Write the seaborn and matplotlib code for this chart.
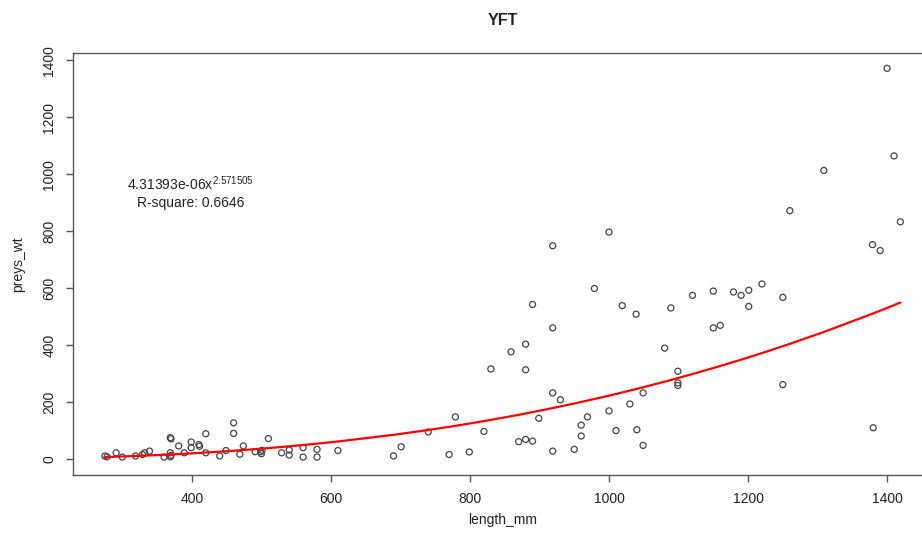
import numpy as np
import matplotlib
matplotlib.use("Agg")
import matplotlib.pyplot as plt
import pandas as pd
import seaborn as sns

# length (mm) and prey weight
length_mm = [275, 278, 291, 300, 319, 329, 332, 339, 360, 369, 370, 369, 369, 370,
             381, 389, 399, 399, 410, 411, 420, 420, 440, 449, 460, 460, 469, 474,
             491, 499, 500, 501, 510, 529, 540, 540, 560, 560, 580, 580, 610,
             690, 701, 740, 770, 779, 799, 820, 830, 859, 870, 880, 880, 880, 890,
             890, 899, 919, 919, 919, 919, 930, 950, 960, 960, 969, 979, 1000, 1000,
             1010, 1019, 1030, 1039, 1040, 1049, 1049, 1080, 1089, 1099, 1099, 1099,
             1120, 1150, 1150, 1160, 1179, 1190, 1201, 1201, 1220, 1250, 1250, 1260,
             1309, 1379, 1380, 1390, 1400, 1410, 1419]
preys_wt = [12, 9, 23, 8, 12, 17, 23, 29, 8, 76, 72, 23, 9, 14,
            47, 23, 61, 41, 52, 46, 90, 23, 12, 31, 128, 91, 18, 47,
            27, 27, 20, 32, 73, 23, 33, 15, 41, 8, 35, 8, 31,
            12, 44, 96, 17, 149, 26, 98, 317, 377, 62, 70, 404, 314, 64,
            543, 144, 29, 749, 461, 233, 209, 35, 82, 120, 149, 599, 797, 170,
            101, 539, 194, 509, 104, 233, 49, 390, 531, 309, 268, 259,
            575, 590, 461, 470, 587, 575, 593, 536, 615, 568, 262, 872,
            1013, 753, 111, 732, 1371, 1064, 833]

# power fit reported on the chart
fit_a = 4.31393e-06
fit_b = 2.571505
r_square = 0.6646

df = pd.DataFrame({"length_mm": length_mm, "preys_wt": preys_wt})
fit = pd.DataFrame({"length_mm": np.sort(df["length_mm"].unique())})
fit["preys_wt"] = fit_a * fit["length_mm"] ** fit_b

sns.set_style("ticks")
plt.rcParams["font.family"] = ["Liberation Sans", "DejaVu Sans"]
txt = "#222222"

fig = plt.figure(figsize=(9.22, 5.43), dpi=100)
ax = fig.add_axes([73 / 922, 68 / 543, 860 / 922, 422 / 543])

sns.scatterplot(data=df, x="length_mm", y="preys_wt", ax=ax, marker="o",
                s=19, facecolor="none", edgecolor="#444444", linewidth=0.9)
sns.lineplot(data=fit, x="length_mm", y="preys_wt", ax=ax, color="red",
             linewidth=1.6, sort=True)

ax.set_xlim(229, 1466)
ax.set_ylim(-54.8, 1424.8)
ax.set_xticks([400, 600, 800, 1000, 1200, 1400])
ax.set_yticks([0, 200, 400, 600, 800, 1000, 1200, 1400])
for s in ax.spines.values():
    s.set_color("#555555")
    s.set_linewidth(1.0)
ax.tick_params(direction="out", length=5, width=1.0, color="#555555",
               labelsize=10, labelcolor=txt)
ax.tick_params(axis="x", pad=7)
ax.tick_params(axis="y", pad=7, labelrotation=90)
for lab in ax.get_yticklabels():
    lab.set_verticalalignment("center")

ax.set_xlabel("length_mm", fontsize=10, color=txt, labelpad=5)
ax.set_ylabel("preys_wt", fontsize=10, color=txt, labelpad=12)
ax.set_title("YFT", fontsize=11.5, fontweight="bold", color=txt, pad=20)

ax.text(398, 966, r"4.31393e-06x$^{\mathregular{2.571505}}$", ha="center", va="center",
        fontsize=10, color=txt)
ax.text(398, 900, f"R-square: {r_square}", ha="center", va="center",
        fontsize=10, color=txt)

fig.savefig("out.png", dpi=100)
